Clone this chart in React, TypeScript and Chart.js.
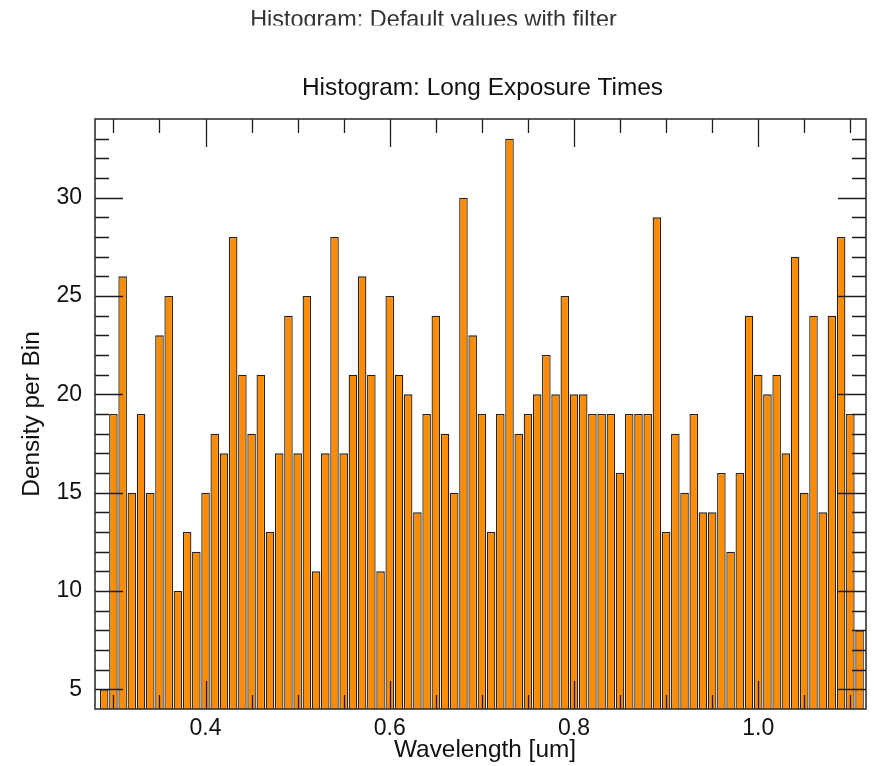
import React, { useEffect, useRef } from "react";
import { Chart, registerables } from "chart.js";

Chart.register(...registerables);

// ---- Data ----
const BIN_START = 0.29; // centre of first bin (um)
const BIN_WIDTH = 0.01; // bin width (um)
const COUNTS = [
  5, 19, 26, 15, 19, 15, 23, 25, 10, 13,
  12, 15, 18, 17, 28, 21, 18, 21, 13, 17,
  24, 17, 25, 11, 17, 28, 17, 21, 26, 21,
  11, 25, 21, 20, 14, 19, 24, 18, 15, 30,
  23, 19, 13, 19, 33, 18, 19, 20, 22, 20,
  25, 20, 20, 19, 19, 19, 16, 19, 19, 19,
  29, 13, 18, 15, 19, 14, 14, 16, 12, 16,
  24, 21, 20, 21, 17, 27, 15, 24, 14, 24,
  28, 19, 8,
];
const X_TICKS = [0.4, 0.6, 0.8, 1.0];
const Y_TICKS = [5, 10, 15, 20, 25, 30];
const X_MIN = 0.28;
const X_MAX = 1.117;
const Y_MIN = 4;
const Y_MAX = 34;
const X_MINOR_STEP = 0.05;
const X_MAJOR_EVERY = 4;
const Y_MINOR_STEP = 1;
const Y_MAJOR_EVERY = 5;

const SUPER_TITLE = "Histogram: Default values with filter";
const TITLE = "Histogram: Long Exposure Times";
const X_TITLE = "Wavelength [um]";
const Y_TITLE = "Density per Bin";

const FONT = '"Liberation Sans", Arial, Helvetica, sans-serif';

const framePlugin = {
  id: "frameTicks",
  afterDatasetsDraw(chart: any) {
    const { ctx, chartArea: a } = chart;
    const xs = chart.scales.x;
    const ys = chart.scales.y;
    ctx.save();
    ctx.strokeStyle = "#1e1e1e";
    ctx.lineWidth = 1.3;
    ctx.beginPath();
    // x ticks (bottom & top, inward)
    const k0 = Math.ceil(xs.min / X_MINOR_STEP - 1e-9);
    const k1 = Math.floor(xs.max / X_MINOR_STEP + 1e-9);
    for (let k = k0; k <= k1; k++) {
      const px = Math.round(xs.getPixelForValue(k * X_MINOR_STEP)) + 0.5;
      if (px <= a.left + 1 || px >= a.right - 1) continue;
      const len = k % X_MAJOR_EVERY === 0 ? 28 : 14;
      ctx.moveTo(px, a.bottom);
      ctx.lineTo(px, a.bottom - len);
      ctx.moveTo(px, a.top);
      ctx.lineTo(px, a.top + len);
    }
    // y ticks (left & right, inward)
    for (let v = Math.ceil(ys.min); v <= Math.floor(ys.max); v += Y_MINOR_STEP) {
      const py = Math.round(ys.getPixelForValue(v)) + 0.5;
      if (py <= a.top + 1 || py >= a.bottom - 1) continue;
      const len = v % Y_MAJOR_EVERY === 0 ? 28 : 14;
      ctx.moveTo(a.left, py);
      ctx.lineTo(a.left + len, py);
      ctx.moveTo(a.right, py);
      ctx.lineTo(a.right - len, py);
    }
    ctx.stroke();
    // frame
    ctx.lineWidth = 1.6;
    ctx.strokeStyle = "#333";
    ctx.strokeRect(a.left, a.top, a.right - a.left, a.bottom - a.top);
    ctx.restore();
  },
  afterDraw(chart: any) {
    const { ctx, chartArea: a } = chart;
    ctx.save();
    // clipped super title
    ctx.save();
    ctx.beginPath();
    ctx.rect(0, 0, chart.width, 25.5);
    ctx.clip();
    ctx.fillStyle = "#333";
    ctx.font = `23.4px ${FONT}`;
    ctx.textAlign = "center";
    ctx.textBaseline = "alphabetic";
    ctx.fillText(SUPER_TITLE, 433.5, 27);
    ctx.restore();
    // main title
    ctx.fillStyle = "#111";
    ctx.font = `24.4px ${FONT}`;
    ctx.textAlign = "center";
    ctx.textBaseline = "alphabetic";
    ctx.fillText(TITLE, 482.5, 95);
    // x title
    ctx.font = `24.4px ${FONT}`;
    ctx.fillText(X_TITLE, 485, 757);
    // y title
    ctx.translate(38.5, (a.top + a.bottom) / 2);
    ctx.rotate(-Math.PI / 2);
    ctx.fillText(Y_TITLE, 0, 0);
    ctx.restore();
  },
};

export default function App() {
  const ref = useRef<HTMLCanvasElement | null>(null);

  useEffect(() => {
    if (!ref.current) return;
    const data = COUNTS.map((c, i) => ({ x: BIN_START + i * BIN_WIDTH, y: c }));
    const chart = new Chart(ref.current, {
      type: "bar",
      data: {
        datasets: [
          {
            data,
            backgroundColor: "#FF8C00",
            borderColor: "#222222",
            borderWidth: 1.3,
            barPercentage: 0.93,
            categoryPercentage: 1,
          },
        ],
      },
      options: {
        responsive: false,
        animation: false,
        devicePixelRatio: 1,
        layout: { padding: { top: 119, right: 8, left: 0, bottom: 0 } },
        plugins: {
          legend: { display: false },
          title: { display: false },
          tooltip: { enabled: false },
        },
        scales: {
          x: {
            type: "linear",
            min: X_MIN,
            max: X_MAX,
            offset: false,
            grid: { display: false, drawTicks: false, offset: false },
            border: { display: false },
            afterBuildTicks: (s: any) => {
              s.ticks = X_TICKS.map((v) => ({ value: v }));
            },
            afterFit: (s: any) => {
              s.height = 57;
            },
            ticks: {
              autoSkip: false,
              maxRotation: 0,
              padding: 6,
              color: "#111",
              font: { family: FONT, size: 23 },
              callback: (v: any) => Number(v).toFixed(1),
            },
          },
          y: {
            type: "linear",
            min: Y_MIN,
            max: Y_MAX,
            grid: { display: false, drawTicks: false },
            border: { display: false },
            afterBuildTicks: (s: any) => {
              s.ticks = Y_TICKS.map((v) => ({ value: v }));
            },
            afterFit: (s: any) => {
              s.width = 95;
            },
            ticks: {
              padding: 13,
              color: "#111",
              font: { family: FONT, size: 23 },
              callback: (v: any) => String(v),
            },
          },
        },
      },
      plugins: [framePlugin],
    });
    return () => chart.destroy();
  }, []);

  return (
    <div style={{ position: "absolute", left: 0, top: 0, width: 874, height: 766, background: "#fff" }}>
      <canvas ref={ref} width={874} height={766} style={{ width: 874, height: 766, display: "block" }} />
    </div>
  );
}
